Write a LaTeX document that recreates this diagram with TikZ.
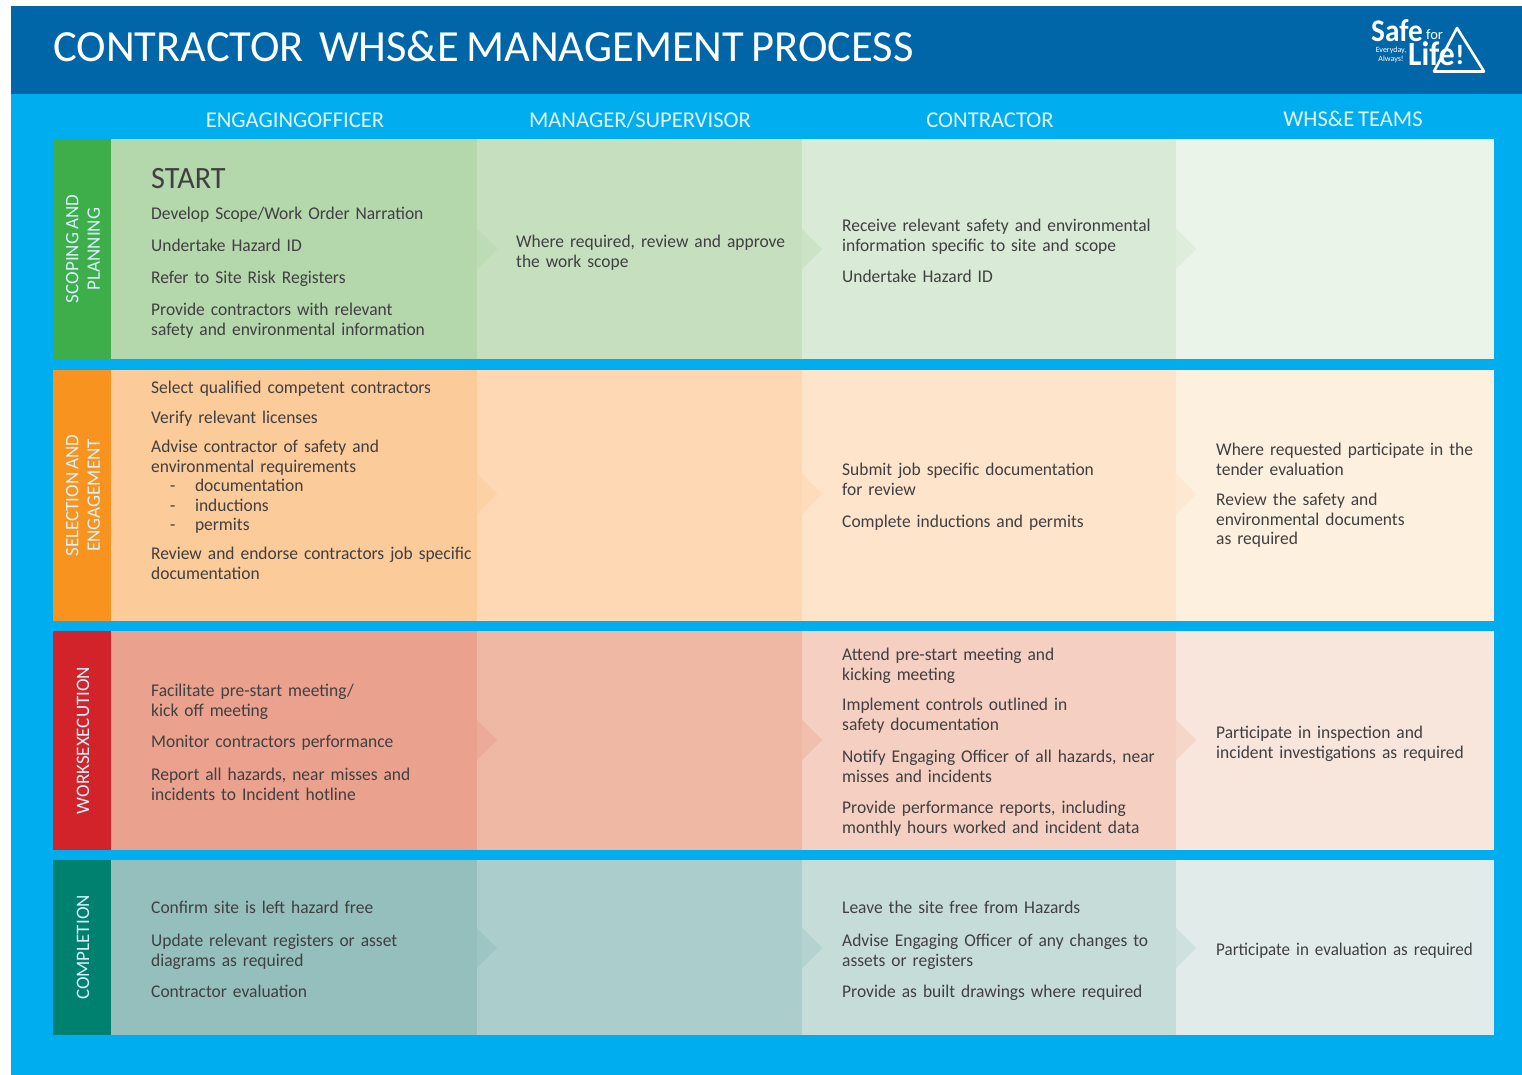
\documentclass[tikz,border=0pt]{standalone}
\usepackage{fontspec}
\setmainfont{Carlito}[WordSpace=.72]
\newfontfamily\bodyfont{Carlito}[WordSpace=.62,FakeStretch=.975]
\newfontfamily\tightfont{Carlito}[WordSpace=.1,FakeStretch=.95]
\definecolor{skyb}{HTML}{00AEEF}\definecolor{darkb}{HTML}{0066A8}\definecolor{ink}{HTML}{403F41}
\definecolor{ga}{HTML}{3DAE4A}\definecolor{gb}{HTML}{B5D7AC}\definecolor{gc}{HTML}{C6E0BF}\definecolor{gd}{HTML}{D9EAD6}\definecolor{ge}{HTML}{EAF4E9}
\definecolor{oa}{HTML}{F7931E}\definecolor{ob}{HTML}{FCCB9A}\definecolor{oc}{HTML}{FED8B4}\definecolor{od}{HTML}{FEE4CB}\definecolor{oe}{HTML}{FDF0DF}
\definecolor{ra}{HTML}{D2232A}\definecolor{rb}{HTML}{EAA18E}\definecolor{rc}{HTML}{EEB8A5}\definecolor{rd}{HTML}{F5CFC1}\definecolor{re}{HTML}{F8E5DC}
\definecolor{ta}{HTML}{00806F}\definecolor{tb}{HTML}{94BFBD}\definecolor{tc}{HTML}{ABCDCC}\definecolor{td}{HTML}{C6DCD9}\definecolor{te}{HTML}{E1ECEA}
\newcommand{\rowband}[6]{% top,bottom,prefix,arrow y,label name,label
  \fill[#3a] (53,#1) rectangle (111,#2);
  \fill[#3b] (111,#1) rectangle (477,#2);
  \fill[#3c] (477,#1) rectangle (802,#2);
  \fill[#3d] (802,#1) rectangle (1176,#2);
  \fill[#3e] (1176,#1) rectangle (1494,#2);
  \fill[#3b!55!#3c] (477,#4-20) -- (497,#4) -- (477,#4+20) -- cycle;
  \fill[#3c!70!#3d] (802,#4-20) -- (822,#4) -- (802,#4+20) -- cycle;
  \fill[#3d!70!#3e] (1176,#4-20) -- (1196,#4) -- (1176,#4+20) -- cycle;
  \node[rowlabel] (#5) at (83,{(#1+#2)/2}) {#6};
}
\tikzset{
  x=1pt,y=-1pt,
  body/.style={inner sep=0pt,anchor=north west,align=left,text=ink,yshift=-3pt,font=\bodyfont\fontsize{17.9}{19.4}\selectfont,text width=360pt},
  colhead/.style={inner sep=0pt,text=white!88!skyb,font=\fontsize{22.6}{24}\selectfont,anchor=base},
  rowlabel/.style={inner sep=0pt,rotate=90,align=center,text=white!85!skyb,font=\fontsize{19}{21.5}\selectfont},
  logotext/.style={inner sep=0pt,anchor=base,text=white}
}
\begin{document}
\begin{tikzpicture}
\useasboundingbox (0,0) rectangle (1522,1075);
\fill[white] (0,0) rectangle (1522,1075);
\fill[skyb] (11,94) rectangle (1522,1075);
\fill[darkb] (11,6) rectangle (1522,94);
\node[inner sep=0pt,anchor=base west,text=white,font=\fontsize{44.5}{44}\selectfont] (title) at (53,62) {CONTRACTOR\hspace{8pt} WHS\&E MANAGEMENT PROCESS};
\node[colhead] (h1) at (295,128) {ENGAGINGOFFICER};
\node[colhead] (h2) at (640,128) {MANAGER/SUPERVISOR};
\node[colhead] (h3) at (990,128) {CONTRACTOR};
\node[colhead] (h4) at (1353,127) {WHS\&E TEAMS};
\rowband{139}{359}{g}{249}{r1}{SCOPING AND\\PLANNING}
\rowband{370}{621}{o}{494}{r2}{SELECTION AND\\ENGAGEMENT}
\rowband{631}{850}{r}{740}{r3}{WORKSEXECUTION}
\rowband{860}{1035}{t}{948}{r4}{COMPLETION}
% logo
\node[logotext,anchor=base west,font=\bfseries\fontsize{31.5}{32}\selectfont] (lsafe) at (1371,42) {\addfontfeature{FakeStretch=.93}Safe};
\node[logotext,anchor=base west,font=\fontsize{14.5}{15}\selectfont] (lfor) at (1426,40) {for};
\node[logotext,anchor=base west,font=\bfseries\fontsize{34}{34}\selectfont] (llife) at (1408,65.5) {\addfontfeature{FakeStretch=.93}Life};
\node[logotext,font=\fontsize{8}{9.5}\selectfont] (lev) at (1391,53) {Everyday,};
\node[logotext,font=\fontsize{8}{9.5}\selectfont] (lal) at (1391,62) {Always!};
\draw[white,line width=2.6pt,line join=round] (1457,28) -- (1484,71.5) -- (1434,71.5) -- cycle;
\node[logotext,font=\bfseries\fontsize{28}{28}\selectfont] (lbang) at (1460,65) {!};
% row 1
\node[body,font=\bodyfont\fontsize{31}{32}\selectfont] (a0) at (151,165) {START};
\node[body] (a1) at (151,204) {Develop Scope/Work Order Narration};
\node[body] (a2) at (151,236) {Undertake Hazard ID};
\node[body] (a3) at (151,268) {Refer to Site Risk Registers};
\node[body] (a4) at (151,300) {Provide contractors with relevant\\safety and environmental information};
\node[body] (b1) at (516,232) {Where required, review and approve\\the work scope};
\node[body] (c1) at (842,216) {Receive relevant safety and environmental\\information specific to site and scope};
\node[body] (c2) at (842,267) {Undertake Hazard ID};
% row 2
\node[body] (d1) at (151,378) {Select qualified competent contractors};
\node[body] (d2) at (151,408) {Verify relevant licenses};
\node[body] (d3) at (151,437) {Advise contractor of safety and\\environmental requirements};
\node[body] (d4) at (170,476) {-\hspace{19.5pt}documentation\\-\hspace{19.5pt}inductions\\-\hspace{19.5pt}permits};
\node[body] (d5) at (151,544) {Review and endorse contractors job specific\\documentation};
\node[body] (e1) at (842,460) {Submit job specific documentation\\for review};
\node[body] (e2) at (842,512) {Complete inductions and permits};
\node[body] (f1) at (1216,440) {Where requested participate in the\\tender evaluation};
\node[body] (f2) at (1216,490) {Review the safety and\\environmental documents\\as required};
% row 3
\node[body] (g1) at (151,681) {Facilitate pre-start meeting/\\kick off meeting};
\node[body] (g2) at (151,732) {Monitor contractors performance};
\node[body] (g3) at (151,765) {Report all hazards, near misses and\\incidents to Incident hotline};
\node[body] (i1) at (842,645) {Attend pre-start meeting and\\kicking meeting};
\node[body] (i2) at (842,695) {Implement controls outlined in\\safety documentation};
\node[body] (i3) at (842,747) {Notify Engaging Officer of all hazards, near\\misses and incidents};
\node[body] (i4) at (842,798) {Provide performance reports, including\\monthly hours worked and incident data};
\node[body] (j1) at (1216,723) {Participate in inspection and\\incident investigations as required};
% row 4
\node[body] (k1) at (151,898) {Confirm site is left hazard free};
\node[body] (k2) at (151,931) {Update relevant registers or asset\\diagrams as required};
\node[body] (k3) at (151,982) {Contractor evaluation};
\node[body] (m1) at (842,898) {Leave the site free from Hazards};
\node[body] (m2) at (842,931) {Advise Engaging Officer of any changes to\\assets or registers};
\node[body] (m3) at (842,982) {Provide as built drawings where required};
\node[body,font=\tightfont\fontsize{17.9}{19.4}\selectfont] (n1) at (1216,940) {Participate in evaluation as required};
\end{tikzpicture}
\end{document}
